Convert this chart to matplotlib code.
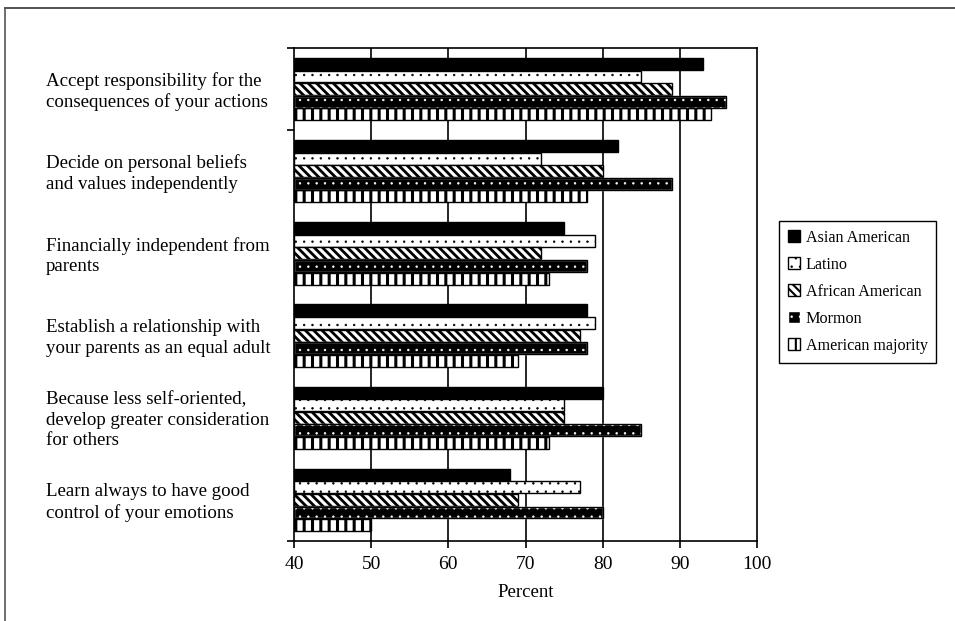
import matplotlib
matplotlib.use("Agg")
import matplotlib.pyplot as plt
import numpy as np
from matplotlib.patches import Patch
from matplotlib.lines import Line2D
from matplotlib.transforms import blended_transform_factory

# categorias, de cima para baixo
categorias = [
    "Accept responsibility for the\nconsequences of your actions",
    "Decide on personal beliefs\nand values independently",
    "Financially independent from\nparents",
    "Establish a relationship with\nyour parents as an equal adult",
    "Because less self-oriented,\ndevelop greater consideration\nfor others",
    "Learn always to have good\ncontrol of your emotions",
]

grupos = ["Asian American", "Latino", "African American", "Mormon", "American majority"]

asian = [93, 82, 75, 78, 80, 68]
latino = [85, 72, 79, 79, 75, 77]
african = [89, 80, 72, 77, 75, 69]
mormon = [96, 89, 78, 78, 85, 80]
majority = [94, 78, 73, 69, 73, 50]

series = [asian, latino, african, mormon, majority]

plt.rcParams["font.family"] = ["Liberation Serif", "DejaVu Serif"]

fig = plt.figure(figsize=(9.55, 6.21), dpi=100)
ax = fig.add_axes([294 / 955, 1 - 541 / 621, (757 - 294) / 955, (541 - 48) / 621])

y = np.arange(len(categorias))
passo = 0.153
altura = 0.145
offsets = (np.arange(5) - 2) * passo

# estilos de cada serie: (face, edge, hatch, espessura do hatch)
estilos = [
    ("black", "black", None, 1.0),
    ("white", "black", "..", 0.5),
    ("white", "black", "\\" * 4, 2.0),
    ("black", "white", "..", 0.5),
    ("white", "black", "||", 2.2),
]


def fixa_hatch_lw(artista, lw):
    # espessura do hatch por artista (funciona em qualquer versao)
    if hasattr(artista, "set_hatch_linewidth"):
        artista.set_hatch_linewidth(lw)
    desenho = artista.draw

    def draw(renderer):
        with plt.rc_context({"hatch.linewidth": lw}):
            desenho(renderer)
    artista.draw = draw


for i, (vals, (fc, ec, h, hlw)) in enumerate(zip(series, estilos)):
    larg = np.array(vals) - 40
    pos = y + offsets[i]
    barras = ax.barh(pos, larg, left=40, height=altura, color=fc,
                     edgecolor=ec, hatch=h, linewidth=1.0, zorder=3)
    for b in barras:
        fixa_hatch_lw(b, hlw)
    if ec == "white":
        # contorno preto por cima
        ax.barh(pos, larg, left=40, height=altura, fill=False,
                edgecolor="black", linewidth=1.0, zorder=4)

ax.set_xlim(40, 100)
ax.set_ylim(len(categorias) - 0.5, -0.5)
ax.set_xticks(range(40, 101, 10))
ax.tick_params(axis="x", direction="out", length=5, width=1.2, pad=6, labelsize=14)
ax.set_yticks([-0.5, 0.5, 5.5])
ax.set_yticklabels([])
ax.tick_params(axis="y", direction="out", length=5, width=1.2)
for x in range(50, 100, 10):
    ax.axvline(x, color="black", linewidth=1.2, zorder=1)
for s in ax.spines.values():
    s.set_linewidth(1.2)

ax.set_xlabel("Percent", fontsize=13.5, labelpad=8)

trans = blended_transform_factory(fig.transFigure, ax.transData)
for yi, txt in zip(y, categorias):
    ax.text(46 / 955, yi + 0.03, txt, transform=trans, ha="left", va="center",
            fontsize=13.6, linespacing=1.26)

# legenda
handles = []
for (fc, ec, h, hlw), nome in zip(estilos, grupos):
    p = Patch(facecolor=fc, edgecolor=ec, hatch=h, linewidth=1.0, label=nome)
    handles.append(p)
leg = fig.legend(handles=handles, loc="upper left",
                 bbox_to_anchor=(779 / 955, 1 - 221 / 621), fontsize=11.6,
                 frameon=True, fancybox=False, shadow=False, framealpha=1,
                 edgecolor="black", handlelength=0.75, handleheight=0.75,
                 handletextpad=0.35, labelspacing=0.68, borderpad=0.55,
                 borderaxespad=0)
leg.get_frame().set_linewidth(1.0)
for (fc, ec, h, hlw), p in zip(estilos, leg.get_patches()):
    fixa_hatch_lw(p, min(hlw, 1.5))
    if ec == "white":
        p.set_edgecolor("white")

# borda da figura (cortada)
fig.add_artist(Line2D([5 / 955, 1], [1 - 8 / 621, 1 - 8 / 621],
                      transform=fig.transFigure, color="#333333", linewidth=1.2))
fig.add_artist(Line2D([5 / 955, 5 / 955], [0, 1 - 8 / 621],
                      transform=fig.transFigure, color="#555555", linewidth=1.2))

fig.savefig("out.png", dpi=100)
